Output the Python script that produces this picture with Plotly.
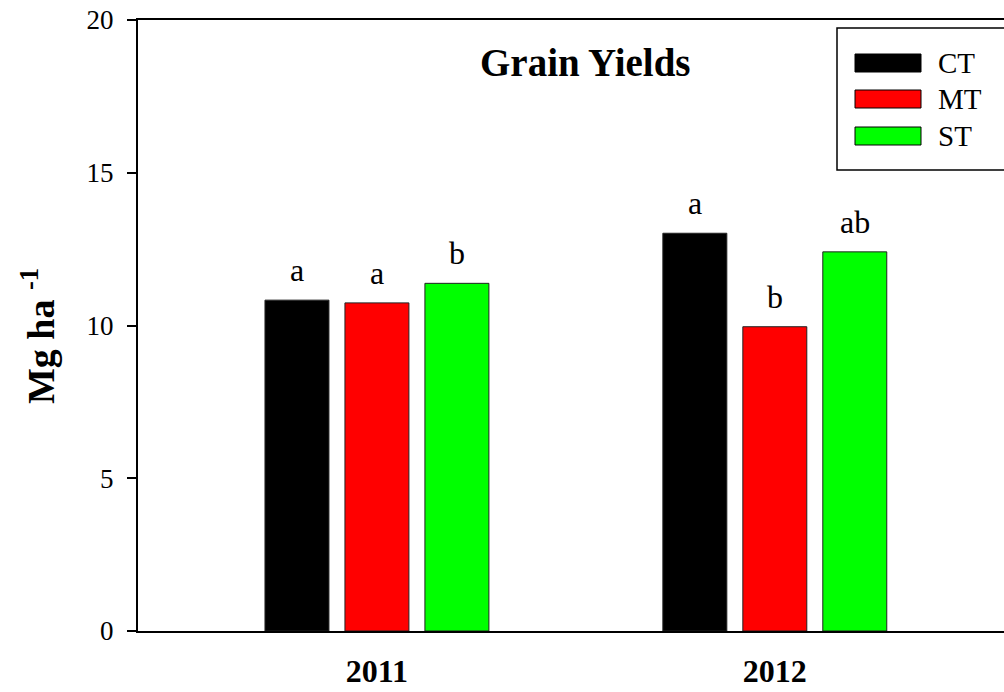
import plotly.graph_objects as go

years = ["2011", "2012"]
treatments = ["CT", "MT", "ST"]
colors = ["#000000", "#ff0000", "#00ff00"]
yields = {
    "CT": [10.83, 13.02],
    "MT": [10.74, 9.96],
    "ST": [11.38, 12.41],
}
letters = {
    "CT": ["a", "a"],
    "MT": ["a", "b"],
    "ST": ["b", "ab"],
}
y_ticks = [0, 5, 10, 15, 20]

W, H = 1004, 692
L, T, B, R = 138, 20, 61, 0
BARGAP = 0.397
FONT = "Liberation Serif, Times New Roman, serif"

fig = go.Figure()
for t, c in zip(treatments, colors):
    fig.add_trace(go.Bar(
        name=t, x=years, y=yields[t],
        marker=dict(color=c, line=dict(color="#222222", width=1)),
        showlegend=False,
    ))

# significance letters above bars
slot = (1 - BARGAP) / len(treatments)
for k, t in enumerate(treatments):
    for i, yr in enumerate(years):
        fig.add_annotation(
            x=i + (k - 1) * slot, y=yields[t][i], xref="x", yref="y",
            text=letters[t][i], showarrow=False,
            xanchor="center", yanchor="bottom", yshift=10,
            font=dict(family=FONT, size=32, color="black"),
        )

pw, ph = W - L - R, H - T - B
def px(x):
    return (x - L) / pw
def py(y):
    return (H - B - y) / ph

# title
fig.add_annotation(x=px(585), y=py(62), xref="paper", yref="paper",
                   text="<b>Grain Yields</b>", showarrow=False,
                   xanchor="center", yanchor="middle",
                   font=dict(family=FONT, size=39, color="black"))
# y-axis label
fig.add_annotation(x=px(38), y=py(336), xref="paper", yref="paper",
                   text="<b>Mg ha <sup>-1</sup></b>", showarrow=False, textangle=-90,
                   xanchor="center", yanchor="middle",
                   font=dict(family=FONT, size=38, color="black"))

# custom legend
fig.add_shape(type="rect", xref="paper", yref="paper",
              x0=px(837), x1=px(1015), y0=py(170), y1=py(28),
              line=dict(color="black", width=1.5), fillcolor="white", layer="above")
row_y = [63, 99, 136]
for t, c, yy in zip(treatments, colors, row_y):
    fig.add_shape(type="rect", xref="paper", yref="paper",
                  x0=px(855), x1=px(921), y0=py(yy + 9), y1=py(yy - 9),
                  line=dict(color="black", width=1), fillcolor=c, layer="above")
    fig.add_annotation(x=px(936), y=py(yy), xref="paper", yref="paper",
                       text=t, showarrow=False, xanchor="left", yanchor="middle",
                       font=dict(family=FONT, size=29, color="black"))

fig.update_layout(
    width=W, height=H,
    margin=dict(l=L, r=R, t=T, b=B, autoexpand=False),
    plot_bgcolor="white", paper_bgcolor="white",
    barmode="group", bargap=BARGAP, bargroupgap=0.2,
    showlegend=False,
)
fig.update_xaxes(
    type="category", range=[-0.6005, 1.576],
    showline=True, linecolor="black", linewidth=2, mirror=True,
    ticks="", showgrid=False, zeroline=False,
    tickfont=dict(family=FONT, size=32, color="black"),
    ticklabelstandoff=11,
    tickvals=years, ticktext=["<b>%s</b>" % y for y in years],
)
fig.update_yaxes(
    range=[0, 20], tickvals=y_ticks,
    showline=True, linecolor="black", linewidth=2,
    ticks="outside", ticklen=9, tickwidth=2, tickcolor="black",
    showgrid=False, zeroline=False,
    tickfont=dict(family=FONT, size=27, color="black"),
    ticklabelstandoff=8,
)

fig.write_html("out.html", config={"displayModeBar": False},
               post_script="document.body.style.margin='0px';")
